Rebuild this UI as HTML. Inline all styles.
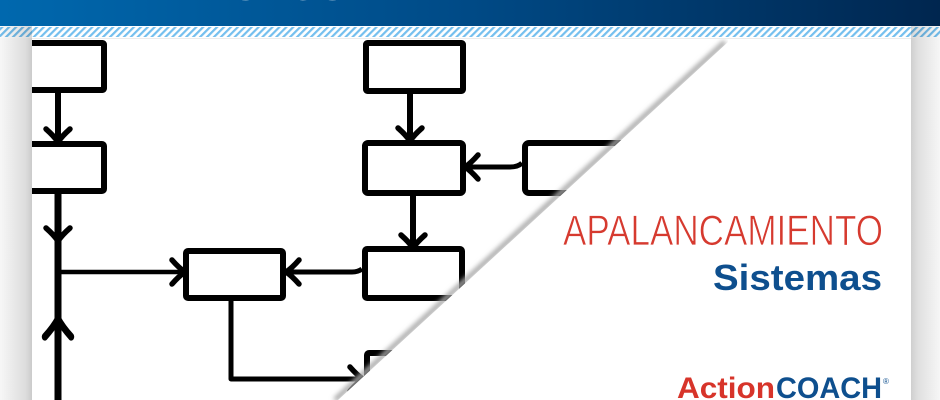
<!DOCTYPE html>
<html><head><meta charset="utf-8"><style>
html,body{margin:0;padding:0;background:#fff;}
body{width:940px;height:400px;overflow:hidden;}
svg{display:block;overflow:hidden;}
</style></head><body>
<svg width="940" height="400" viewBox="0 0 940 400" xmlns="http://www.w3.org/2000/svg">
<defs>
<linearGradient id="hdr" x1="0" y1="0" x2="1" y2="0">
<stop offset="0" stop-color="#0068ae"/>
<stop offset="0.5" stop-color="#004a86"/>
<stop offset="1" stop-color="#00264f"/>
</linearGradient>
<pattern id="hatch" patternUnits="userSpaceOnUse" width="4.9" height="8" patternTransform="rotate(45)">
<rect x="0" y="0" width="2.2" height="8" fill="#74bfee"/>
</pattern>
<linearGradient id="lm" x1="0" y1="0" x2="1" y2="0">
<stop offset="0" stop-color="#f7f7f7"/>
<stop offset="0.8" stop-color="#dddddd"/>
<stop offset="1" stop-color="#cbcbcb"/>
</linearGradient>
<linearGradient id="rm" x1="0" y1="0" x2="1" y2="0">
<stop offset="0" stop-color="#cfcfcf"/>
<stop offset="0.25" stop-color="#e0e0e0"/>
<stop offset="1" stop-color="#f6f6f6"/>
</linearGradient>
<linearGradient id="lmt" x1="0" y1="0" x2="1" y2="0">
<stop offset="0" stop-color="#000" stop-opacity="0.02"/>
<stop offset="1" stop-color="#000" stop-opacity="0.15"/>
</linearGradient>
<linearGradient id="rmt" x1="0" y1="0" x2="1" y2="0">
<stop offset="0" stop-color="#000" stop-opacity="0.15"/>
<stop offset="1" stop-color="#000" stop-opacity="0.03"/>
</linearGradient>
<filter id="blur" x="-20%" y="-20%" width="140%" height="140%"><feGaussianBlur stdDeviation="2.5"/></filter>
<g id="ah">
<path d="M-12,-12 Q-4,-5 0,1 Q4,-5 12,-12" fill="none" stroke="#000" stroke-width="5.5" stroke-linecap="round" stroke-linejoin="round"/>
<path d="M-7,-9 Q-2,-5 0,2 Q2,-5 7,-9 L0,-4 Z" fill="#000"/>
</g>
</defs>

<rect x="0" y="0" width="940" height="400" fill="#fff"/>

<!-- diagram -->
<g fill="none" stroke="#000" stroke-width="6" stroke-linejoin="round">
<rect x="13" y="43" width="91" height="47" rx="1.5"/>
<rect x="13" y="144" width="91" height="47" rx="2"/>
<rect x="186" y="251" width="97" height="47" rx="2"/>
<rect x="365" y="249" width="97" height="49" rx="2"/>
<rect x="366" y="43" width="97" height="48" rx="1.5"/>
<rect x="365" y="143" width="98" height="50" rx="3"/>
<rect x="525" y="143" width="109" height="50" rx="4"/>
<rect x="367" y="353" width="109" height="69" rx="2"/>
<path d="M58,93 V138"/>
<path d="M58,194 V400" stroke-width="7"/>
<path d="M58,272 H180" stroke-width="4.5"/>
<path d="M362,269 Q358,272 352,272 H290" stroke-width="5"/>
<path d="M413,196 V243"/>
<path d="M410,94 V137"/>
<path d="M522,163 Q518,167 510,167 H470" stroke-width="5"/>
<path d="M231,301 V379 H358" stroke-width="5"/>
</g>
<use href="#ah" transform="translate(58,141)"/>
<use href="#ah" transform="translate(58,240)"/>
<use href="#ah" transform="translate(58,320) rotate(180) scale(1.1,1.4)"/>
<use href="#ah" transform="translate(184,272) rotate(-90)"/>
<use href="#ah" transform="translate(287,272) rotate(90)"/>
<use href="#ah" transform="translate(413,247)"/>
<use href="#ah" transform="translate(410,140)"/>
<use href="#ah" transform="translate(466,167) rotate(90)"/>
<use href="#ah" transform="translate(362,379) rotate(-90)"/>

<!-- fold shadow + folded page -->
<path d="M725,42 L335,400" stroke="#a8a8a8" stroke-width="5" fill="none" filter="url(#blur)"/>
<polygon points="728,38 912,38 912,400 338,400 728,42" fill="#fff"/>

<!-- texts -->
<text x="563" y="245" font-family="Liberation Sans, sans-serif" font-size="43" fill="#d63a2f" stroke="#fff" stroke-width="0.8" textLength="320" lengthAdjust="spacingAndGlyphs">APALANCAMIENTO</text>
<text x="713" y="290" font-family="Liberation Sans, sans-serif" font-weight="bold" font-size="36" fill="#0e4f8e" textLength="169" lengthAdjust="spacingAndGlyphs">Sistemas</text>
<text x="677" y="398" font-family="Liberation Sans, sans-serif" font-weight="bold" font-size="30" fill="#d7342a" textLength="98" lengthAdjust="spacingAndGlyphs">Action</text>
<text x="776" y="398" font-family="Liberation Sans, sans-serif" font-weight="bold" font-size="30" fill="#0e4f8e" textLength="106" lengthAdjust="spacingAndGlyphs">COACH</text>
<text x="883" y="384" font-family="Liberation Sans, sans-serif" font-size="8" fill="#0e4f8e">®</text>

<!-- margins -->
<rect x="0" y="38" width="32" height="362" fill="url(#lm)"/>
<rect x="911" y="38" width="29" height="362" fill="url(#rm)"/>

<!-- header -->
<rect x="0" y="0" width="940" height="26" fill="url(#hdr)"/>
<text x="230" y="0" font-family="Liberation Sans, sans-serif" font-weight="bold" font-size="30" fill="#fff" textLength="116" lengthAdjust="spacingAndGlyphs">CEOS</text>
<rect x="0" y="26" width="940" height="12" fill="#fff"/>
<rect x="0" y="27" width="940" height="10" fill="url(#hatch)"/>
<rect x="0" y="26" width="32" height="12" fill="url(#lmt)"/>
<rect x="911" y="26" width="29" height="12" fill="url(#rmt)"/>
<rect x="32" y="38" width="879" height="1" fill="#ececec"/>
</svg>
</body></html>
